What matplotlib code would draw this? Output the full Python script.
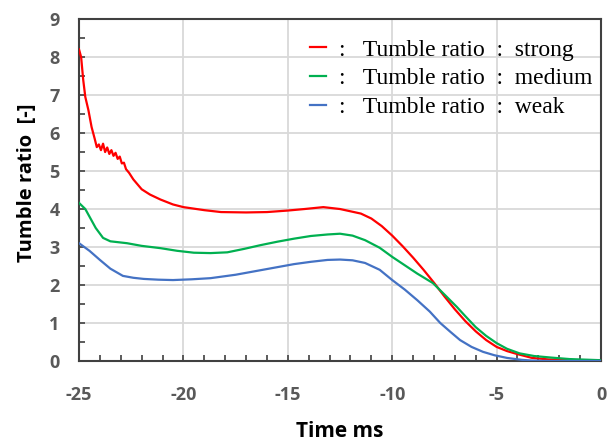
#!/usr/bin/env python3
"""Tumble ratio vs. time for three tumble strengths."""

import matplotlib
matplotlib.use("Agg")
import matplotlib.pyplot as plt
from matplotlib.font_manager import FontProperties
from matplotlib.ticker import MultipleLocator


# values
T_STRONG = [-25, -24.9, -24.8, -24.7, -24.55, -24.4, -24.25, -24.15, -24.05, -23.95,
            -23.85, -23.75, -23.65, -23.55, -23.45, -23.35, -23.25, -23.15, -23.05,
            -22.95, -22.85, -22.75, -22.6, -22.4, -22.2, -22.0, -21.6, -21.1, -20.5,
            -20, -19, -18.2, -17, -16, -15, -14.2, -13.3, -12.5, -11.5, -11, -10.5,
            -10, -9.5, -9, -8.5, -8, -7.5, -7, -6.5, -6, -5.5, -5, -4.5, -4, -3.3,
            -2.5, -1.5, 0]
Y_STRONG = [8.2, 8.0, 7.4, 6.95, 6.6, 6.16, 5.85, 5.63, 5.7, 5.55,
            5.72, 5.5, 5.62, 5.45, 5.55, 5.4, 5.48, 5.32, 5.38,
            5.2, 5.22, 5.05, 4.95, 4.78, 4.65, 4.52, 4.38, 4.25, 4.12,
            4.05, 3.97, 3.92, 3.91, 3.92, 3.96, 4.0, 4.05, 4.0, 3.88, 3.75, 3.55,
            3.3, 3.02, 2.72, 2.4, 2.06, 1.7, 1.36, 1.05, 0.78, 0.55, 0.37, 0.26, 0.18, 0.08,
            0.04, 0.02, 0.01]

T_MEDIUM = [-25, -24.7, -24.5, -24.2, -23.85, -23.5, -22.7, -22, -21.1, -20.3, -19.5,
            -18.7, -17.9, -17.1, -16.3, -15.5, -14.7, -13.9, -13.1, -12.5, -11.9,
            -11.3, -10.6, -10, -9.4, -8.8, -8.05, -7.5, -6.9, -6.5, -6, -5.5, -5,
            -4.5, -3.9, -3.2, -2.4, -1.5, 0]
Y_MEDIUM = [4.16, 4.0, 3.8, 3.5, 3.24, 3.15, 3.1, 3.03, 2.97, 2.9, 2.85,
            2.84, 2.86, 2.95, 3.05, 3.14, 3.22, 3.29, 3.33, 3.35, 3.3,
            3.18, 2.98, 2.74, 2.52, 2.3, 2.05, 1.75, 1.42, 1.18, 0.89, 0.66, 0.47,
            0.32, 0.2, 0.13, 0.09, 0.05, 0.02]

T_WEAK = [-25, -24.5, -24, -23.5, -22.9, -22.4, -21.9, -21.2, -20.5, -19.6, -18.7,
          -17.5, -16.3, -15.5, -14.7, -13.9, -13.1, -12.5, -11.9, -11.3, -10.6, -10,
          -9.4, -8.8, -8.2, -7.7, -7.2, -6.75, -6.2, -5.65, -5.1, -4.5, -3.8, -3.3,
          -2.5, 0]
Y_WEAK = [3.1, 2.9, 2.66, 2.43, 2.24, 2.19, 2.16, 2.14, 2.13, 2.15, 2.18,
          2.27, 2.39, 2.47, 2.55, 2.61, 2.66, 2.67, 2.65, 2.58, 2.4, 2.13,
          1.88, 1.6, 1.3, 1.0, 0.76, 0.55, 0.37, 0.24, 0.15, 0.08, 0.03, 0.01,
          0.0, 0.0]

LABELS = [":   Tumble ratio  :  strong",
          ":   Tumble ratio  :  medium",
          ":   Tumble ratio  :  weak"]
COLORS = ["#ff0000", "#00b050", "#4472c4"]


def main():
    plt.rcParams["axes.unicode_minus"] = False

    fig = plt.figure(figsize=(6.08, 4.44), dpi=100)
    ax = fig.add_axes([0.130, 0.187, 0.8585, 0.770])

    series = [(T_STRONG, Y_STRONG), (T_MEDIUM, Y_MEDIUM), (T_WEAK, Y_WEAK)]
    for (t, y), lab, col in zip(series, LABELS, COLORS):
        ax.plot(t, y, color=col, lw=1.6, label=lab, zorder=3)

    ax.set_xlim(-25, 0)
    ax.set_ylim(0, 9)
    ax.xaxis.set_major_locator(MultipleLocator(5))
    ax.xaxis.set_minor_locator(MultipleLocator(1))
    ax.yaxis.set_major_locator(MultipleLocator(1))
    ax.yaxis.set_minor_locator(MultipleLocator(0.5))
    ax.tick_params(which="both", direction="in", color="#404040", width=1.2, length=4)
    ax.tick_params(axis="x", which="major", pad=18)
    ax.tick_params(axis="y", which="major", pad=14)
    ax.grid(True, which="major", color="#d9d9d9", lw=1.3, zorder=0)
    ax.set_axisbelow(True)

    for sp in ax.spines.values():
        sp.set_color("#404040")
        sp.set_linewidth(1.5)

    for lbl in ax.get_xticklabels() + ax.get_yticklabels():
        lbl.set_fontfamily("Open Sans")
        lbl.set_fontweight("bold")
        lbl.set_fontsize(13)
        lbl.set_color("#595959")

    ax.set_xlabel("Time ms", family="Open Sans", weight="bold", size=15, labelpad=12)
    ax.set_ylabel("Tumble ratio  [-]", family="Open Sans", weight="bold", size=14.5)
    ax.yaxis.set_label_coords(-0.08, 0.52)

    leg_font = FontProperties(family="Liberation Serif", size=17)
    ax.legend(loc="upper right", bbox_to_anchor=(0.992, 0.955), frameon=False,
              prop=leg_font, handlelength=0.65, handletextpad=0.55,
              labelspacing=0.3, borderaxespad=0.0, borderpad=0.2)

    fig.savefig("out.png", dpi=100)
    plt.close(fig)


if __name__ == "__main__":
    main()
